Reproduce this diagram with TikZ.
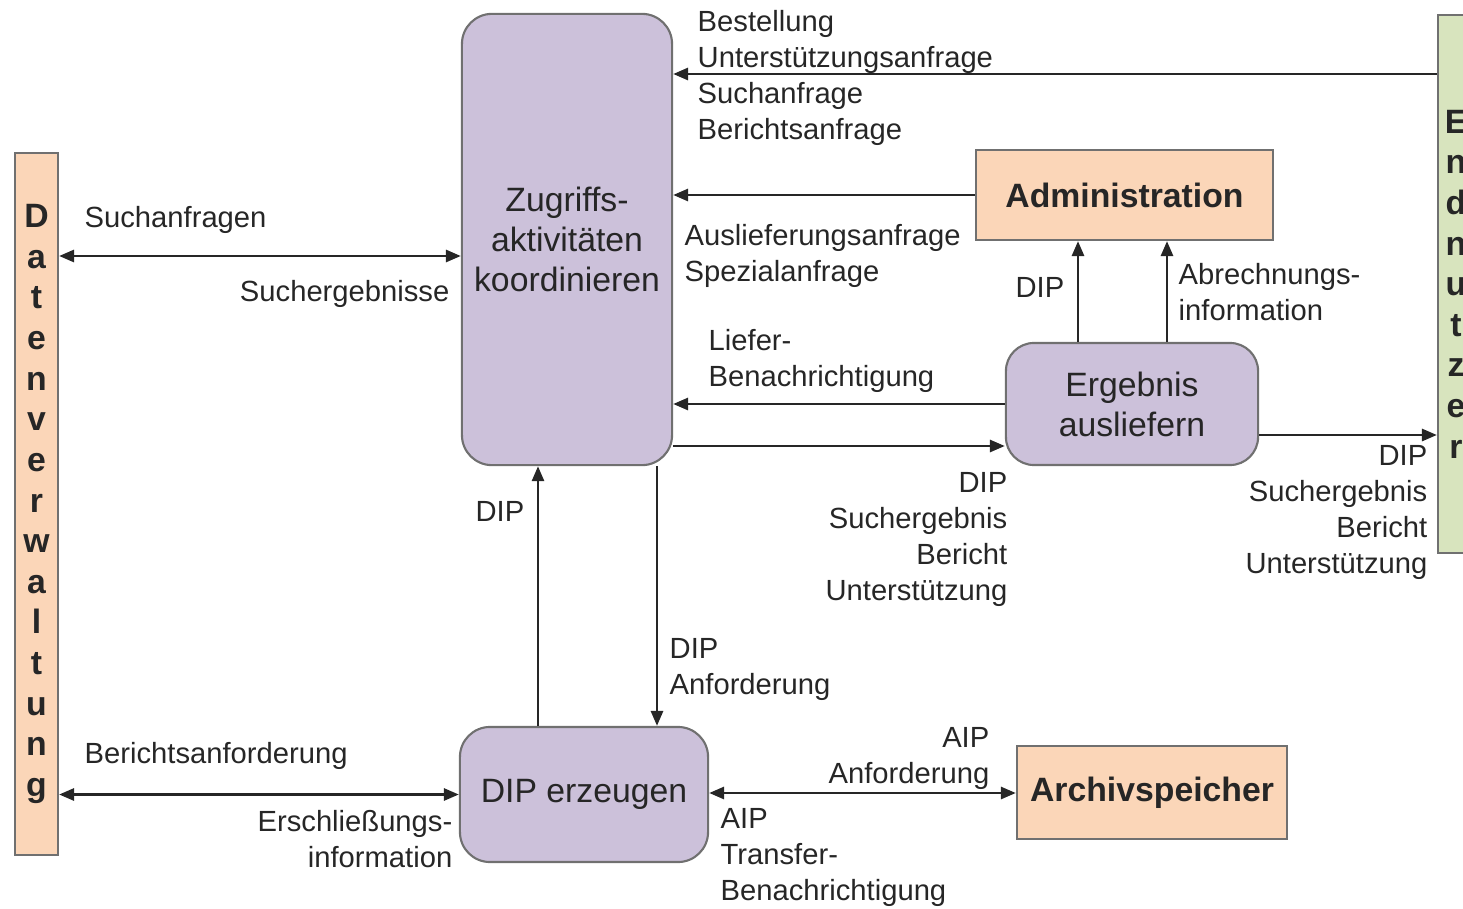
\documentclass[tikz,border=0pt]{standalone}
\usepackage{fontspec}
\setmainfont{Liberation Sans}
\usetikzlibrary{arrows.meta}
\definecolor{lila}{HTML}{CCC1DA}
\definecolor{pfirsich}{HTML}{FBD6B8}
\definecolor{gruen}{HTML}{D8E4BE}
\definecolor{rand}{HTML}{707070}
\definecolor{schrift}{HTML}{262626}
\begin{document}
\begin{tikzpicture}[x=0.01cm, y=-0.01cm,
        kasten/.style={draw=rand, line width=0.6pt, inner sep=0pt, font=\fontsize{9.6}{11.4}\selectfont, text=schrift, align=center},
        rkasten/.style={kasten, fill=lila, rounded corners=0.3cm},
        ekasten/.style={kasten, fill=pfirsich, font=\fontsize{9.6}{11.4}\selectfont\bfseries},
        stapel/.style={kasten, font=\fontsize{9.6}{11.55}\selectfont\bfseries},
        lab/.style={inner sep=0pt, font=\fontsize{8.3}{10.2}\selectfont, text=schrift},
        arr/.style={-{Triangle[length=0.15cm, width=0.12cm]}, line width=0.8pt, draw=schrift},
        darr/.style={{Triangle[length=0.15cm, width=0.12cm]}-{Triangle[length=0.15cm, width=0.12cm]}, line width=0.8pt, draw=schrift}
    ]
    \useasboundingbox (0,0) rectangle (1463,909);

    \node[stapel, fill=pfirsich, minimum width=0.43cm, minimum height=7.02cm] (dv) at (36.5,504)
        {D\\a\\t\\e\\n\\v\\e\\r\\w\\a\\l\\t\\u\\n\\g};
    \node[stapel, fill=gruen, minimum width=0.36cm, minimum height=5.38cm] (end) at (1456,284)
        {E\\n\\d\\n\\u\\t\\z\\e\\r};

    \node[rkasten, minimum width=2.10cm, minimum height=4.51cm] (zug) at (567,239.5)
        {Zugriffs-\\aktivitäten\\koordinieren};
    \node[ekasten, minimum width=2.97cm, minimum height=0.90cm] (adm) at (1124.5,195) {Administration};
    \node[rkasten, rounded corners=0.28cm, minimum width=2.52cm, minimum height=1.22cm] (erg) at (1132,404)
        {Ergebnis\\ausliefern};
    \node[rkasten, minimum width=2.48cm, minimum height=1.35cm] (dip) at (584,794.5) {DIP erzeugen};
    \node[ekasten, minimum width=2.70cm, minimum height=0.93cm] (arc) at (1152,792.5) {Archivspeicher};

    \draw[arr] (end.west |- 0,74) -- (zug.east |- 0,74);
    \draw[arr] (adm.west) -- (zug.east |- adm.west);
    \draw[darr] (dv.east |- 0,256) -- (zug.west |- 0,256);
    \draw[arr] (erg.west) -- (zug.east |- erg.west);
    \draw[arr] (zug.east |- 0,446) -- (erg.west |- 0,446);
    \draw[arr] (erg.east |- 0,435) -- (end.west |- 0,435);
    \draw[arr] (erg.north -| 1078,0) -- (adm.south -| 1078,0);
    \draw[arr] (erg.north -| 1167,0) -- (adm.south -| 1167,0);
    \draw[arr] (dip.north -| 538,0) -- (zug.south -| 538,0);
    \draw[arr] (zug.south -| 657,0) -- (dip.north -| 657,0);
    \draw[darr] (dv.east |- dip.west) -- (dip.west);
    \draw[darr] (dip.east |- 0,793) -- (arc.west |- 0,793);

    \node[lab, anchor=base west, align=left] (best) at (697,139)
        {Bestellung\\Unterstützungsanfrage\\Suchanfrage\\Berichtsanfrage};
    \node[lab, anchor=base west, align=left] (ausl) at (684,281) {Auslieferungsanfrage\\Spezialanfrage};
    \node[lab, anchor=base west] (such) at (84,227) {Suchanfragen};
    \node[lab, anchor=base east] (serg) at (450,301) {Suchergebnisse};
    \node[lab, anchor=base west, align=left] (lief) at (708,386) {Liefer-\\Benachrichtigung};
    \node[lab, anchor=base east, align=right] (dipsu) at (1008,600) {DIP\\Suchergebnis\\Bericht\\Unterstützung};
    \node[lab, anchor=base east, align=right] (dipend) at (1428,573) {DIP\\Suchergebnis\\Bericht\\Unterstützung};
    \node[lab, anchor=base east] (dipadm) at (1065,297) {DIP};
    \node[lab, anchor=base west, align=left] (abr) at (1178,320) {Abrechnungs-\\information};
    \node[lab, anchor=base east] (dipup) at (525,521) {DIP};
    \node[lab, anchor=base west, align=left] (dipanf) at (669,694) {DIP\\Anforderung};
    \node[lab, anchor=base west] (ber) at (84,763) {Berichtsanforderung};
    \node[lab, anchor=base east, align=right] (ersch) at (453,867) {Erschließungs-\\information};
    \node[lab, anchor=base east, align=right] (aipanf) at (990,783) {AIP\\Anforderung};
    \node[lab, anchor=base west, align=left] (aiptr) at (720,900) {AIP\\Transfer-\\Benachrichtigung};
\end{tikzpicture}
\end{document}
